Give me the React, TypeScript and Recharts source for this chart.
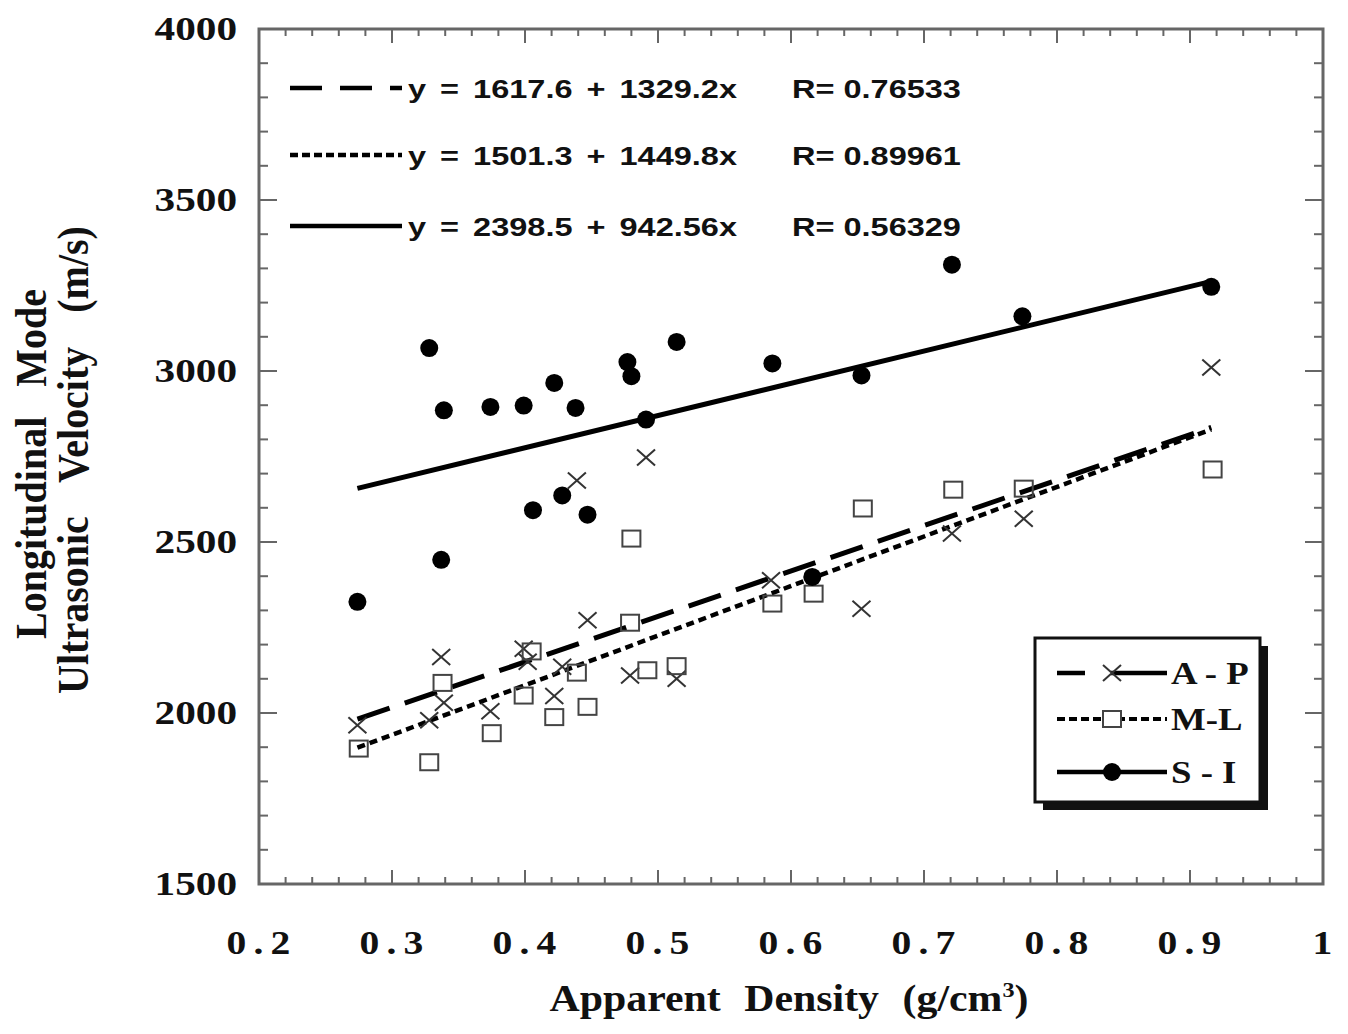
import React from 'react';
import { ScatterChart, Scatter, XAxis, YAxis, ReferenceLine, ReferenceArea, Customized } from 'recharts';

// ---------- data ----------
const apDensity = [0.274, 0.328, 0.337, 0.339, 0.374, 0.399, 0.402, 0.422, 0.428, 0.439, 0.447, 0.479, 0.491, 0.514, 0.585, 0.653, 0.721, 0.775, 0.916];
const apVelocity = [1964, 1979, 2164, 2030, 2005, 2188, 2150, 2050, 2135, 2680, 2271, 2110, 2747, 2100, 2388, 2305, 2525, 2568, 3010];

const mlDensity = [0.275, 0.328, 0.338, 0.375, 0.399, 0.405, 0.422, 0.439, 0.447, 0.479, 0.480, 0.492, 0.514, 0.586, 0.617, 0.654, 0.722, 0.775, 0.917];
const mlVelocity = [1896, 1856, 2088, 1941, 2051, 2180, 1988, 2118, 2018, 2264, 2510, 2125, 2137, 2320, 2349, 2598, 2653, 2656, 2712];

const siDensity = [0.274, 0.328, 0.337, 0.339, 0.374, 0.399, 0.406, 0.422, 0.428, 0.438, 0.447, 0.477, 0.480, 0.491, 0.514, 0.586, 0.616, 0.653, 0.721, 0.774, 0.916];
const siVelocity = [2325, 3067, 2448, 2885, 2895, 2899, 2593, 2965, 2636, 2892, 2580, 3026, 2985, 2858, 3085, 3022, 2398, 2987, 3311, 3160, 3246];

// fit lines (intercept, slope) as printed on the chart
const fitNames = ['A - P', 'M-L', 'S - I'];
const fitIntercept = [1617.6, 1501.3, 2398.5];
const fitSlope = [1329.2, 1449.8, 942.56];
const fitR = ['0.76533', '0.89961', '0.56329'];
const fitEqText = ['y = 1617.6 + 1329.2x', 'y = 1501.3 + 1449.8x', 'y = 2398.5 + 942.56x'];
const fitXStart = 0.274;
const fitXEnd = 0.916;

const xMajorTicks = [0.2, 0.3, 0.4, 0.5, 0.6, 0.7, 0.8, 0.9, 1.0];
const xTickLabels = ['0.2', '0.3', '0.4', '0.5', '0.6', '0.7', '0.8', '0.9', '1'];
const yMajorTicks = [1500, 2000, 2500, 3000, 3500, 4000];
const yTickLabels = ['1500', '2000', '2500', '3000', '3500', '4000'];

const xAllTicks: number[] = [];
for (let i = 0; i < xMajorTicks.length - 1; i++) {
  for (let k = 0; k < 5; k++) xAllTicks.push(Math.round((xMajorTicks[i] + k * 0.02) * 1000) / 1000);
}
xAllTicks.push(1.0);
const yAllTicks: number[] = [];
for (let v = 1500; v <= 4000; v += 100) yAllTicks.push(v);

const toPts = (xs: number[], ys: number[]) => xs.map((x, i) => ({ x, y: ys[i] }));
const apData = toPts(apDensity, apVelocity);
const mlData = toPts(mlDensity, mlVelocity);
const siData = toPts(siDensity, siVelocity);

// ---------- layout ----------
const W = 1332;
const H = 1018;
const M_TOP = 21;
const M_RIGHT = 17;
const Y_AXIS_W = 251;
const X_AXIS_H = 142;
const PLOT_LEFT = Y_AXIS_W;
const PLOT_RIGHT = W - M_RIGHT;
const PLOT_TOP = M_TOP;
const PLOT_BOTTOM = H - X_AXIS_H;

const AXIS_COLOR = '#666';
const SERIF = '"Liberation Serif", "Times New Roman", serif';
const SANS = '"Liberation Sans", Arial, sans-serif';

const XTick = (props: any) => {
  const { x, payload } = props;
  const v = payload.value;
  const idx = xMajorTicks.findIndex((t) => Math.abs(t - v) < 1e-6);
  const major = idx >= 0;
  const len = major ? 14 : 7;
  return (
    <g>
      <line x1={x} x2={x} y1={PLOT_BOTTOM} y2={PLOT_BOTTOM - len} stroke={AXIS_COLOR} strokeWidth={2} />
      <line x1={x} x2={x} y1={PLOT_TOP} y2={PLOT_TOP + len} stroke={AXIS_COLOR} strokeWidth={2} />
      {major && (
        <text
          transform={`translate(${x + 3},${PLOT_BOTTOM + 70}) scale(1.2,1)`}
          textAnchor="middle"
          fontFamily={SERIF}
          fontWeight="bold"
          fontSize={33}
          letterSpacing={6}
          fill="#111"
        >
          {xTickLabels[idx]}
        </text>
      )}
    </g>
  );
};

const YTick = (props: any) => {
  const { y, payload } = props;
  const v = payload.value;
  const idx = yMajorTicks.findIndex((t) => t === v);
  const major = idx >= 0;
  const len = major ? 18 : 9;
  return (
    <g>
      <line x1={PLOT_LEFT} x2={PLOT_LEFT + len} y1={y} y2={y} stroke={AXIS_COLOR} strokeWidth={2} />
      <line x1={PLOT_RIGHT} x2={PLOT_RIGHT - len} y1={y} y2={y} stroke={AXIS_COLOR} strokeWidth={2} />
      {major && (
        <text
          transform={`translate(${PLOT_LEFT - 22},${y + 11}) scale(1.25,1)`}
          textAnchor="end"
          fontFamily={SERIF}
          fontWeight="bold"
          fontSize={33}
          fill="#111"
        >
          {yTickLabels[idx]}
        </text>
      )}
    </g>
  );
};

const CircleShape = (p: any) => <circle cx={p.cx} cy={p.cy} r={9} fill="#000" />;
const SquareShape = (p: any) => (
  <rect x={p.cx - 9} y={p.cy - 8} width={18} height={16} fill="#fff" fillOpacity={0} stroke="#444" strokeWidth={2} />
);
const CrossShape = (p: any) => (
  <g stroke="#333" strokeWidth={2}>
    <line x1={p.cx - 9} y1={p.cy - 8} x2={p.cx + 9} y2={p.cy + 8} />
    <line x1={p.cx - 9} y1={p.cy + 8} x2={p.cx + 9} y2={p.cy - 8} />
  </g>
);

const lineStyles = [
  { dash: '34 16', width: 5 },
  { dash: '8 5', width: 4.5 },
  { dash: undefined, width: 5 },
];
const sampleDash = ['32 18', '8 4', undefined];

const Annotations = () => {
  const rowY = [80, 147, 218];
  return (
    <g>
      {rowY.map((ry, i) => (
        <g key={i}>
          <line x1={282} x2={394} y1={ry} y2={ry} stroke="#000" strokeWidth={4.5} strokeDasharray={sampleDash[i]} />
          <text
            transform={`translate(400,${ry + 10}) scale(1.25,1)`}
            fontFamily={SANS}
            fontWeight="bold"
            fontSize={26}
            wordSpacing={4}
            fill="#111"
          >
            {fitEqText[i]}
          </text>
          <text
            transform={`translate(784,${ry + 10}) scale(1.25,1)`}
            fontFamily={SANS}
            fontWeight="bold"
            fontSize={26}
            fill="#111"
          >
            {`R= ${fitR[i]}`}
          </text>
        </g>
      ))}
      {/* legend box */}
      <rect x={1035} y={638} width={225} height={164} fill="#111" />
      <rect x={1027} y={630} width={225} height={164} fill="#fff" stroke="#111" strokeWidth={3} />
      {[665, 711, 764].map((ly, i) => (
        <g key={`lg${i}`}>
          <line
            x1={1049}
            x2={1159}
            y1={ly}
            y2={ly}
            stroke="#000"
            strokeWidth={i === 1 ? 4 : 4.5}
            strokeDasharray={i === 0 ? '28 26 56' : i === 1 ? '8 4' : undefined}
          />
          {i === 0 && <CrossShape cx={1104} cy={ly} />}
          {i === 1 && <rect x={1095} y={ly - 8} width={18} height={16} fill="#fff" stroke="#444" strokeWidth={2} />}
          {i === 2 && <CircleShape cx={1104} cy={ly} />}
          <text
            transform={`translate(1163,${ly + 11}) scale(1.15,1)`}
            fontFamily={SERIF}
            fontWeight="bold"
            fontSize={32}
            fill="#111"
          >
            {fitNames[i]}
          </text>
        </g>
      ))}
      {/* axis titles */}
      <text
        transform={`translate(${(PLOT_LEFT + PLOT_RIGHT) / 2 - 2},${1003}) scale(1.1,1)`}
        textAnchor="middle"
        fontFamily={SERIF}
        fontWeight="bold"
        fontSize={38}
        wordSpacing={12}
        fill="#111"
      >
        Apparent Density (g/cm<tspan dy={-14} fontSize={22}>3</tspan><tspan dy={14}>)</tspan>
      </text>
      <text
        transform={`translate(38,456) scale(1.1,1) rotate(-90)`}
        textAnchor="middle"
        fontFamily={SERIF}
        fontWeight="bold"
        fontSize={40}
        wordSpacing={20}
        fill="#111"
      >
        Longitudinal Mode
      </text>
      <text
        transform={`translate(80,452) scale(1.1,1) rotate(-90)`}
        textAnchor="middle"
        fontFamily={SERIF}
        fontWeight="bold"
        fontSize={40}
        wordSpacing={24}
        fill="#111"
      >
        Ultrasonic Velocity (m/s)
      </text>
    </g>
  );
};

export default function App() {
  return (
    <ScatterChart width={W} height={H} margin={{ top: M_TOP, right: M_RIGHT, left: 0, bottom: 0 }}>
      <XAxis
        type="number"
        dataKey="x"
        domain={[0.2, 1]}
        allowDataOverflow
        ticks={xAllTicks}
        interval={0}
        height={X_AXIS_H}
        tick={<XTick />}
        tickLine={false}
        axisLine={false}
      />
      <YAxis
        type="number"
        dataKey="y"
        domain={[1500, 4000]}
        allowDataOverflow
        ticks={yAllTicks}
        interval={0}
        width={Y_AXIS_W}
        tick={<YTick />}
        tickLine={false}
        axisLine={false}
      />
      <ReferenceArea x1={0.2} x2={1} y1={1500} y2={4000} fill="none" fillOpacity={0} stroke={AXIS_COLOR} strokeWidth={3} ifOverflow="visible" />
      {fitIntercept.map((b, i) => (
        <ReferenceLine
          key={`fit${i}`}
          segment={[
            { x: fitXStart, y: b + fitSlope[i] * fitXStart },
            { x: fitXEnd, y: b + fitSlope[i] * fitXEnd },
          ]}
          stroke="#000"
          strokeWidth={lineStyles[i].width}
          strokeDasharray={lineStyles[i].dash}
          ifOverflow="visible"
        />
      ))}
      <Scatter name="A-P" data={apData} shape={<CrossShape />} isAnimationActive={false} />
      <Scatter name="M-L" data={mlData} shape={<SquareShape />} isAnimationActive={false} />
      <Scatter name="S-I" data={siData} shape={<CircleShape />} isAnimationActive={false} />
      <Customized component={<Annotations />} />
    </ScatterChart>
  );
}
